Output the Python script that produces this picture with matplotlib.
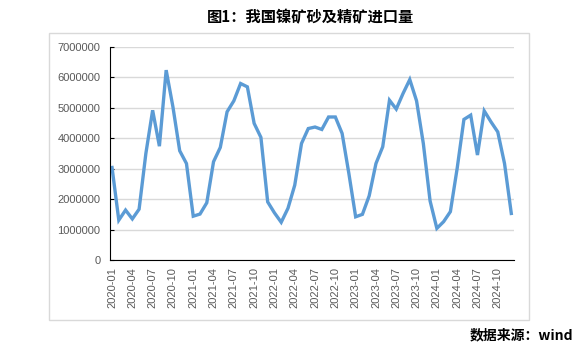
import matplotlib
matplotlib.use("Agg")
import matplotlib.pyplot as plt
from matplotlib.patches import Rectangle
import pandas as pd

plt.rcParams['font.family'] = ['Liberation Sans', 'Noto Sans CJK SC', 'DejaVu Sans']

## 月份 2020-01 ~ 2024-12
months = pd.date_range("2020-01-01", "2024-12-01", freq="MS").strftime("%Y-%m").tolist()

## 镍矿砂及精矿进口量 (吨)
imports = [
    3040000, 1310000, 1640000, 1350000, 1670000, 3500000, 4920000, 3740000, 6240000, 5030000, 3590000, 3170000,
    1440000, 1510000, 1880000, 3230000, 3700000, 4870000, 5230000, 5800000, 5690000, 4490000, 4030000, 1910000,
    1550000, 1240000, 1700000, 2460000, 3830000, 4320000, 4370000, 4290000, 4700000, 4700000, 4160000, 2840000,
    1420000, 1500000, 2110000, 3170000, 3720000, 5250000, 4960000, 5470000, 5930000, 5230000, 3830000, 1940000,
    1040000, 1260000, 1590000, 3010000, 4620000, 4760000, 3450000, 4900000, 4540000, 4210000, 3170000, 1530000,
]

title_text = "图1：我国镍矿砂及精矿进口量"
source_text = "数据来源：wind"

fig = plt.figure(figsize=(5.8, 3.52), dpi=100)
ax = fig.add_axes([110/580, 1-260/352, 404/580, 213/352])

## 外框
fig.patches.append(Rectangle((49/580, 1-320/352), 480/580, 287.3/352,
                             transform=fig.transFigure, fill=False,
                             edgecolor="#D9D9D9", linewidth=1))

x = list(range(len(months)))
ax.plot(x, imports, color="#5B9BD5", linewidth=2.4, solid_joinstyle="miter")

ax.set_ylim(0, 7000000)
ax.set_yticks(range(0, 7000001, 1000000))
ax.set_yticklabels([str(v) for v in range(0, 7000001, 1000000)])
ax.set_xlim(-0.3, len(months) - 0.6)
ax.set_xticks(x[::3])
ax.set_xticklabels(months[::3], rotation=90)

ax.grid(axis="y", color="#D9D9D9", linewidth=1)
ax.set_axisbelow(True)
for s in ["top", "right"]:
    ax.spines[s].set_visible(False)
ax.spines["left"].set_color("black")
ax.spines["bottom"].set_color("black")
ax.tick_params(axis="y", direction="in", length=3, pad=7, labelsize=8, labelcolor="#595959")
ax.tick_params(axis="x", length=0, pad=5, labelsize=8, labelcolor="#595959")

fig.text(311/580, 1-17/352, title_text, ha="center", va="center",
         fontsize=11, fontweight="bold", family=["Noto Sans CJK SC", "DejaVu Sans"])
fig.text(573/580, 1-335/352, source_text, ha="right", va="center",
         fontsize=10, fontweight="bold", family=["Noto Sans CJK SC", "DejaVu Sans"])

fig.savefig("out.png", dpi=100)
